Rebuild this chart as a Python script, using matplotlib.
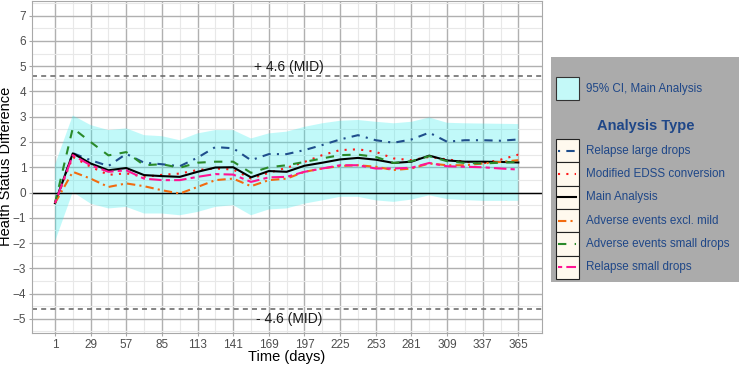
import matplotlib
matplotlib.use("Agg")
import matplotlib.pyplot as plt
from matplotlib.patches import Rectangle
from matplotlib.lines import Line2D
import numpy as np

plt.rcParams['font.family'] = ['Liberation Sans', 'DejaVu Sans']

days = [1, 15, 29, 43, 57, 71, 85, 99, 113, 127, 141, 155, 169, 183, 197,
        211, 225, 239, 253, 267, 281, 295, 309, 323, 337, 351, 365]

main_analysis = [-0.42, 1.55, 1.15, 0.88, 0.97, 0.69, 0.65, 0.62, 0.82, 0.99, 1.00, 0.60, 0.85, 0.82,
                 1.06, 1.18, 1.31, 1.37, 1.30, 1.17, 1.22, 1.46, 1.27, 1.22, 1.22, 1.21, 1.19]
relapse_large = [-0.42, 1.56, 1.28, 1.05, 1.53, 1.18, 1.12, 1.04, 1.38, 1.80, 1.75, 1.28, 1.52, 1.52,
                 1.68, 1.88, 2.10, 2.27, 2.07, 1.97, 2.10, 2.37, 2.01, 2.07, 2.07, 2.05, 2.10]
modified_edss = [-0.42, 1.41, 1.02, 0.70, 0.76, 0.62, 0.70, 0.75, 0.89, 0.95, 0.91, 0.55, 0.78, 0.98,
                 1.21, 1.48, 1.68, 1.71, 1.61, 1.35, 1.28, 1.41, 1.31, 1.22, 1.15, 1.30, 1.50]
ae_excl_mild = [-0.42, 0.82, 0.55, 0.22, 0.36, 0.25, 0.09, -0.04, 0.22, 0.49, 0.55, 0.25, 0.49, 0.55,
                0.82, 0.95, 1.05, 1.08, 1.02, 0.89, 0.95, 1.15, 1.08, 1.08, 1.15, 1.21, 1.28]
ae_small = [-0.42, 2.55, 2.00, 1.47, 1.60, 1.08, 1.12, 0.98, 1.18, 1.22, 1.22, 0.78, 1.00, 1.08,
            1.21, 1.35, 1.48, 1.50, 1.41, 1.17, 1.24, 1.44, 1.24, 1.17, 1.15, 1.18, 1.21]
relapse_small = [-0.42, 1.48, 1.08, 0.82, 0.88, 0.55, 0.49, 0.49, 0.62, 0.73, 0.71, 0.42, 0.60, 0.62,
                 0.82, 0.95, 1.08, 1.08, 0.95, 0.95, 0.98, 1.17, 1.04, 1.02, 1.00, 0.95, 0.91]
ci_upper = [1.10, 3.05, 2.67, 2.47, 2.54, 2.27, 2.23, 2.07, 2.34, 2.47, 2.47, 2.14, 2.34, 2.41,
            2.60, 2.74, 2.84, 2.87, 2.80, 2.74, 2.80, 2.97, 2.76, 2.74, 2.73, 2.72, 2.71]
ci_lower = [-1.95, 0.02, -0.44, -0.63, -0.57, -0.83, -0.83, -0.90, -0.77, -0.57, -0.50, -0.90, -0.67, -0.63,
            -0.44, -0.31, -0.17, -0.17, -0.31, -0.37, -0.28, -0.11, -0.26, -0.30, -0.33, -0.33, -0.33]

mid = 4.6
x_ticks = [1, 29, 57, 85, 113, 141, 169, 197, 225, 253, 281, 309, 337, 365]
y_ticks = [-5, -4, -3, -2, -1, 0, 1, 2, 3, 4, 5, 6, 7]

series = [
    ("Relapse large drops", relapse_large, "#1f4e8c", (0, (1, 3, 4, 3))),
    ("Modified EDSS conversion", modified_edss, "#ff1a1a", (0, (1, 3))),
    ("Main Analysis", main_analysis, "#000000", "-"),
    ("Adverse events excl. mild", ae_excl_mild, "#f26b0f", (0, (4, 2, 1, 2))),
    ("Adverse events small drops", ae_small, "#2a8a2a", (0, (4, 4))),
    ("Relapse small drops", relapse_small, "#ff1493", (0, (2, 2, 6, 2))),
]

W, H = 741, 366
fig = plt.figure(figsize=(W / 100, H / 100), dpi=100)
L, R, T, B = 31.8, 541.5, 0.5, 333
ax = fig.add_axes([L / W, 1 - B / H, (R - L) / W, (B - T) / H])

ax.set_xlim(-17.2, 383.2)
ax.set_ylim(-5.56, 7.6)
ax.set_xticks(x_ticks)
ax.set_yticks(y_ticks)
ax.set_xticks([15 + 28 * i for i in range(13)], minor=True)
ax.set_yticks(np.arange(-5.5, 7.6, 1.0), minor=True)
ax.grid(which='major', color='#b0b0b0', lw=1.0, zorder=0)
ax.grid(which='minor', color='#e8e8e8', lw=0.8, zorder=0)
ax.set_axisbelow(True)
for s in ax.spines.values():
    s.set_color('#a8a8a8')
    s.set_linewidth(0.8)
ax.tick_params(axis='both', which='major', colors='#a8a8a8', labelcolor='#4d4d4d',
               labelsize=8.5, length=2.5, width=0.8, pad=1.5)
ax.tick_params(axis='both', which='minor', length=0)

ax.fill_between(days, ci_lower, ci_upper, facecolor='#33eeee', alpha=0.3, lw=0, zorder=1)
ax.axhline(0, color='black', lw=1.0, zorder=2)
ax.axhline(mid, color='#6e6e6e', lw=1.2, ls=(0, (3, 2.5)), zorder=2)
ax.axhline(-mid, color='#6e6e6e', lw=1.2, ls=(0, (3, 2.5)), zorder=2)
ax.text(185, 4.98, "+ 4.6 (MID)", ha='center', va='center', fontsize=10, color='#1a1a1a')
ax.text(185, -5.0, "- 4.6 (MID)", ha='center', va='center', fontsize=10, color='#1a1a1a')

order = [4, 3, 1, 5, 0, 2]
for i in order:
    name, vals, col, ls = series[i]
    ax.plot(days, vals, color=col, ls=ls, lw=1.5, zorder=3 + i)

ax.set_xlabel("Time (days)", fontsize=10.5)
ax.set_ylabel("Health Status Difference", fontsize=10.5)
ax.xaxis.set_label_coords(0.5, -(357 - B) / (B - T), transform=ax.transAxes)
ax.xaxis.label.set_va('center')
ax.yaxis.set_label_coords(-(L - 6.5) / (R - L), 0.5, transform=ax.transAxes)
ax.yaxis.label.set_va('center')

# legend (drawn in pixel coordinates)
lg = fig.add_axes([0, 0, 1, 1], zorder=10)
lg.set_xlim(0, W)
lg.set_ylim(H, 0)
lg.axis('off')
txtcol = '#1f4788'
lg.add_patch(Rectangle((551, 57), 188, 225, facecolor='#ababab', edgecolor='none'))
lg.add_patch(Rectangle((555.5, 77), 23, 23, facecolor='#c4f9f8', edgecolor='#333333', lw=0.8))
lg.text(586.5, 89, "95% CI, Main Analysis", color=txtcol, fontsize=8.4, va='center', ha='left')
lg.text(646, 126, "Analysis Type", color=txtcol, fontsize=10.5, fontweight='bold', va='center', ha='center')
row_h = 23.3
for k, (name, vals, col, ls) in enumerate(series):
    y0 = 139 + k * row_h
    lg.add_patch(Rectangle((555.5, y0), 23, row_h, facecolor='#fff9ee', edgecolor='#222222', lw=0.8))
    lg.add_line(Line2D([558, 576], [y0 + row_h / 2] * 2, color=col, ls=ls, lw=1.5))
    lg.text(586.5, y0 + row_h / 2, name, color=txtcol, fontsize=8.4, va='center', ha='left')

fig.savefig("out.png", dpi=100)
